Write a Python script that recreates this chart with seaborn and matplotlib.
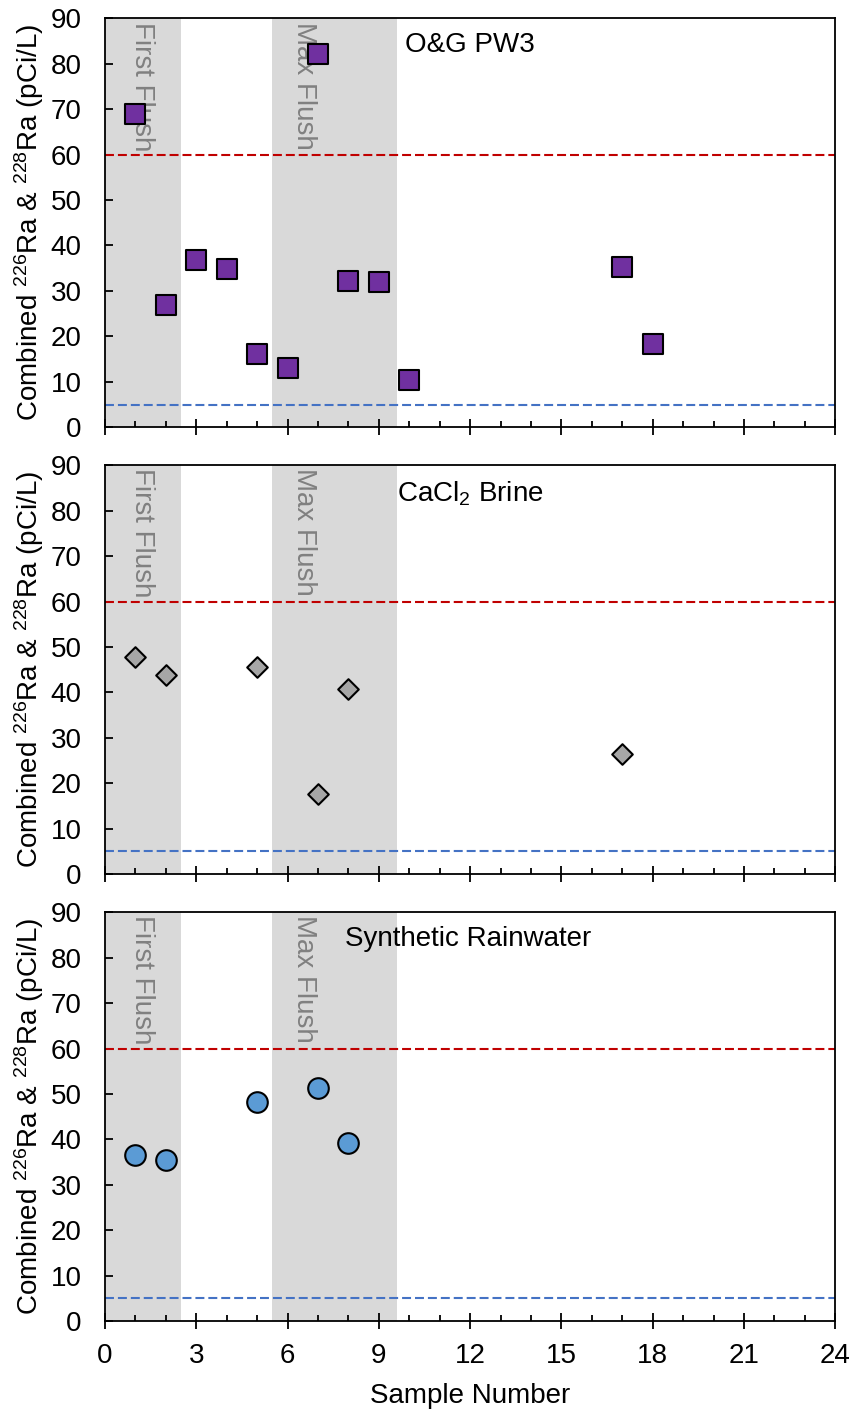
import matplotlib
matplotlib.use("Agg")
import matplotlib.pyplot as plt
import seaborn as sns
import pandas as pd
from matplotlib.ticker import MultipleLocator

# Sample data: combined Ra-226 + Ra-228 activity (pCi/L) by sample number
pw3_sample = [1, 2, 3, 4, 5, 6, 7, 8, 9, 10, 17, 18]
pw3_ra = [69.0, 26.9, 36.8, 34.9, 16.1, 13.0, 82.1, 32.2, 31.9, 10.3, 35.3, 18.4]

brine_sample = [1, 2, 5, 7, 8, 17]
brine_ra = [47.8, 43.9, 45.5, 17.6, 40.7, 26.4]

rain_sample = [1, 2, 5, 7, 8]
rain_ra = [36.6, 35.5, 48.2, 51.4, 39.2]

panel_titles = ["O&G PW3", "CaCl$_2$ Brine", "Synthetic Rainwater"]
upper_limit = 60
lower_limit = 5

sns.set_theme(style="white")
plt.rcParams["font.family"] = ["Liberation Sans", "DejaVu Sans"]
plt.rcParams["mathtext.fontset"] = "custom"
plt.rcParams["mathtext.rm"] = "Liberation Sans"
plt.rcParams["mathtext.it"] = "Liberation Sans:italic"
plt.rcParams["text.color"] = "black"
plt.rcParams["axes.labelcolor"] = "black"
plt.rcParams["xtick.color"] = "black"
plt.rcParams["ytick.color"] = "black"

FS = 20

fig = plt.figure(figsize=(8.54, 14.10), dpi=100)
boxes = [
    [0.123, 0.697, 0.855, 0.290],
    [0.123, 0.380, 0.855, 0.290],
    [0.123, 0.063, 0.855, 0.290],
]

# (x, y, marker, colour, area, title x, title y)
series = [
    (pw3_sample, pw3_ra, "s", "#7030A0", 200, 0.411, 0.966),
    (brine_sample, brine_ra, "D", "#A6A6A6", 110, 0.400, 0.966),
    (rain_sample, rain_ra, "o", "#5B9BD5", 220, 0.329, 0.966),
]

ylabel = "Combined $^{226}$Ra & $^{228}$Ra (pCi/L)"

for i, (box, (xs, ys, mk, col, size, tx, ty)) in enumerate(zip(boxes, series)):
    ax = fig.add_axes(box)
    ax.axvspan(0, 2.5, color="#D9D9D9", lw=0, zorder=0)
    ax.axvspan(5.5, 9.6, color="#D9D9D9", lw=0, zorder=0)
    ax.text(1.2, 89.3, "First Flush", rotation=-90, ha="center", va="top",
            color="#808080", fontsize=FS, zorder=1)
    ax.text(6.55, 89.3, "Max Flush", rotation=-90, ha="center", va="top",
            color="#808080", fontsize=FS, zorder=1)
    ax.axhline(upper_limit, color="#C00000", ls=(0, (4.3, 1.9)), lw=1.5, zorder=2)
    ax.axhline(lower_limit, color="#4472C4", ls=(0, (4.3, 1.9)), lw=1.5, zorder=2)

    df = pd.DataFrame({"Sample": xs, "Ra": ys})
    sns.scatterplot(data=df, x="Sample", y="Ra", marker=mk, color=col, s=size,
                    edgecolor="black", linewidth=1.5, ax=ax, zorder=3)

    ax.text(tx, ty, panel_titles[i], transform=ax.transAxes, ha="left", va="top",
            fontsize=FS, color="black")

    ax.set_xlim(0, 24)
    ax.set_ylim(0, 90)
    ax.xaxis.set_major_locator(MultipleLocator(3))
    ax.xaxis.set_minor_locator(MultipleLocator(1))
    ax.yaxis.set_major_locator(MultipleLocator(10))
    ax.tick_params(axis="x", which="major", direction="inout", length=11.5, width=1.3,
                   colors="black", labelsize=FS, bottom=True, top=False, pad=10)
    ax.tick_params(axis="x", which="minor", direction="in", length=4.5, width=1.3,
                   colors="black", bottom=True)
    ax.tick_params(axis="y", which="major", direction="in", length=6, width=1.3,
                   colors="black", labelsize=FS, left=True, pad=17)
    for sp in ax.spines.values():
        sp.set_color("black")
        sp.set_linewidth(1.3)
    ax.set_ylabel(ylabel, fontsize=FS, labelpad=3, color="black")
    if i < 2:
        ax.set_xlabel("")
        ax.tick_params(axis="x", labelbottom=False)
    else:
        ax.set_xlabel("Sample Number", fontsize=FS, labelpad=10, color="black")

fig.savefig("out.png", dpi=100, facecolor="white")
